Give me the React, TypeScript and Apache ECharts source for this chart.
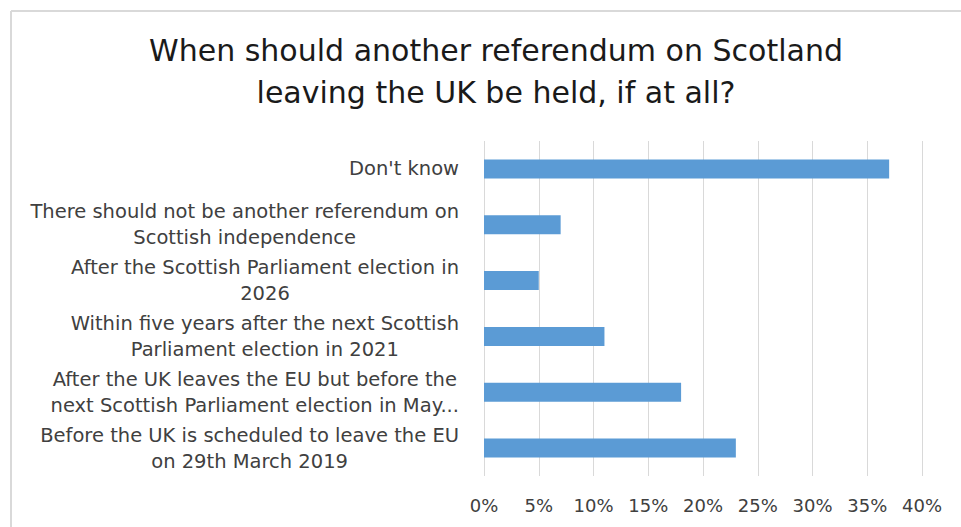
import React, { useEffect, useRef } from "react";
import * as echarts from "echarts";

const titleText = "When should another referendum on Scotland\nleaving the UK be held, if at all?";

const categories: string[] = [
  "Don't know",
  "There should not be another referendum on\nScottish independence",
  "After the Scottish Parliament election in\n2026",
  "Within five years after the next Scottish\nParliament election in 2021",
  "After the UK leaves the EU but before the\nnext Scottish Parliament election in May...",
  "Before the UK is scheduled to leave the EU\non 29th March 2019",
];

const values: number[] = [37, 7, 5, 11, 18, 23];

const axisMin = 0;
const axisMax = 40;
const axisStep = 5;

const FONT = "DejaVu Sans";

export default function App() {
  const ref = useRef<HTMLDivElement>(null);

  useEffect(() => {
    if (!ref.current) return;
    const chart = echarts.init(ref.current, null, { renderer: "svg" });
    chart.setOption({
      animation: false,
      backgroundColor: "#ffffff",
      title: {
        text: titleText,
        left: 491,
        textAlign: "center",
        top: 24,
        textStyle: {
          fontFamily: FONT,
          fontSize: 30,
          fontWeight: "normal",
          color: "#1a1a1a",
          lineHeight: 42,
        },
      },
      graphic: [
        {
          type: "line",
          shape: { x1: 11, y1: 11, x2: 961, y2: 11 },
          style: { stroke: "#d9d9d9", lineWidth: 2 },
        },
        {
          type: "line",
          shape: { x1: 11, y1: 11, x2: 11, y2: 527 },
          style: { stroke: "#d9d9d9", lineWidth: 2 },
        },
      ],
      grid: { left: 484, right: 39, top: 141, bottom: 51, containLabel: false },
      xAxis: {
        type: "value",
        min: axisMin,
        max: axisMax,
        interval: axisStep,
        axisLine: { show: false },
        axisTick: { show: false },
        splitLine: { show: true, lineStyle: { color: "#d9d9d9", width: 1 } },
        axisLabel: {
          formatter: (v: number) => `${v}%`,
          fontFamily: FONT,
          fontSize: 18,
          color: "#404040",
          margin: 20,
        },
      },
      yAxis: {
        type: "category",
        data: categories,
        inverse: true,
        axisLine: { show: false },
        axisTick: { show: false },
        splitLine: { show: false },
        axisLabel: {
          margin: 25,
          fontFamily: FONT,
          fontSize: 19.5,
          color: "#404040",
          lineHeight: 26,
          align: "right",
          formatter: (v: string) =>
            v
              .split("\n")
              .map((l) => `{c|${l}}`)
              .join("\n"),
          rich: {
            c: {
              align: "center",
              fontFamily: FONT,
              fontSize: 19.5,
              color: "#404040",
              lineHeight: 26,
            },
          },
        },
      },
      series: [
        {
          type: "bar",
          data: values,
          barWidth: 19,
          itemStyle: { color: "#5b9bd5" },
        },
      ],
    });
    return () => chart.dispose();
  }, []);

  return (
    <div
      ref={ref}
      style={{ position: "fixed", left: 0, top: 0, width: 961, height: 527 }}
    />
  );
}
